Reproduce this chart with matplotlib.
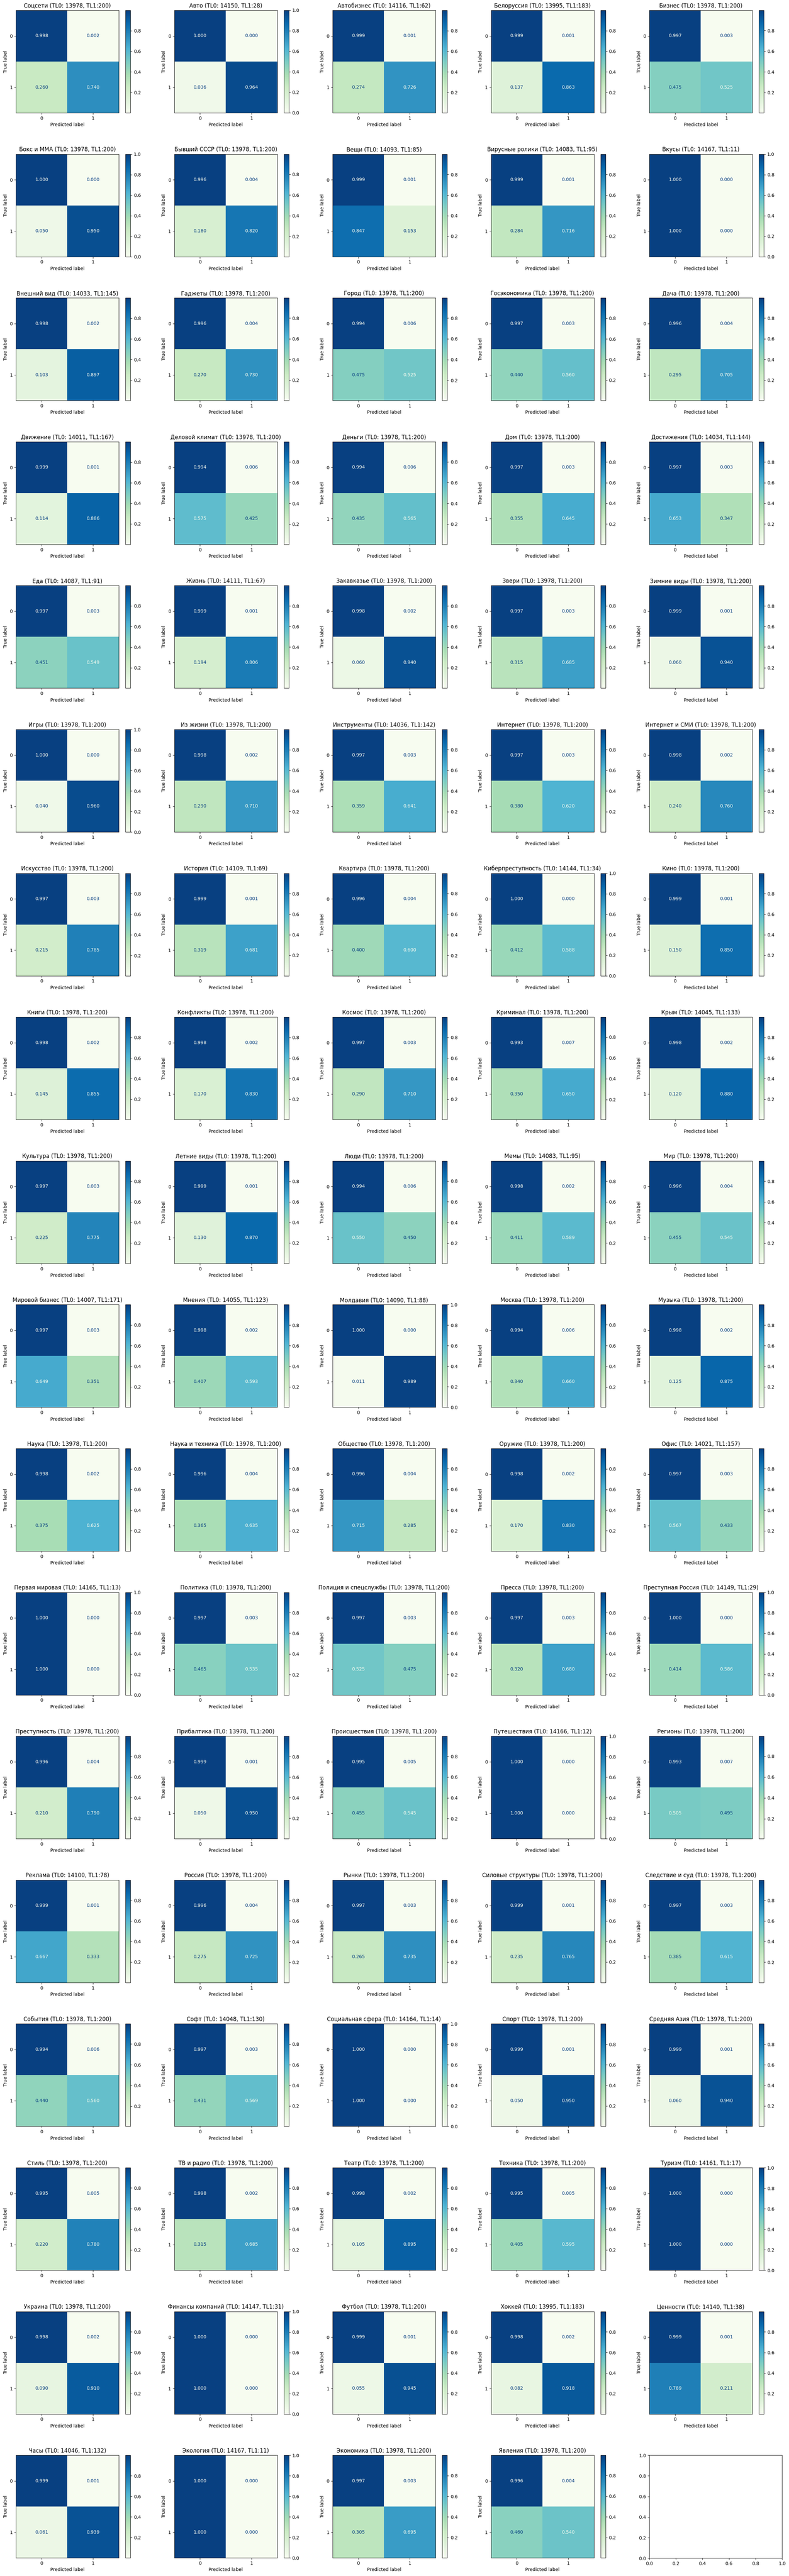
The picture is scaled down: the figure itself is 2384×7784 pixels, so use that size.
import numpy as np
import matplotlib
matplotlib.use("Agg")
import matplotlib.pyplot as plt

# Темы и объёмы классов
topics = [
    "Соцсети", "Авто", "Автобизнес", "Белоруссия", "Бизнес",
    "Бокс и ММА", "Бывший СССР", "Вещи", "Вирусные ролики", "Вкусы",
    "Внешний вид", "Гаджеты", "Город", "Госэкономика", "Дача",
    "Движение", "Деловой климат", "Деньги", "Дом", "Достижения",
    "Еда", "Жизнь", "Закавказье", "Звери", "Зимние виды",
    "Игры", "Из жизни", "Инструменты", "Интернет", "Интернет и СМИ",
    "Искусство", "История", "Квартира", "Киберпреступность", "Кино",
    "Книги", "Конфликты", "Космос", "Криминал", "Крым",
    "Культура", "Летние виды", "Люди", "Мемы", "Мир",
    "Мировой бизнес", "Мнения", "Молдавия", "Москва", "Музыка",
    "Наука", "Наука и техника", "Общество", "Оружие", "Офис",
    "Первая мировая", "Политика", "Полиция и спецслужбы", "Пресса", "Преступная Россия",
    "Преступность", "Прибалтика", "Происшествия", "Путешествия", "Регионы",
    "Реклама", "Россия", "Рынки", "Силовые структуры", "Следствие и суд",
    "События", "Софт", "Социальная сфера", "Спорт", "Средняя Азия",
    "Стиль", "ТВ и радио", "Театр", "Техника", "Туризм",
    "Украина", "Финансы компаний", "Футбол", "Хоккей", "Ценности",
    "Часы", "Экология", "Экономика", "Явления",
]

tl0 = [
    13978, 14150, 14116, 13995, 13978,
    13978, 13978, 14093, 14083, 14167,
    14033, 13978, 13978, 13978, 13978,
    14011, 13978, 13978, 13978, 14034,
    14087, 14111, 13978, 13978, 13978,
    13978, 13978, 14036, 13978, 13978,
    13978, 14109, 13978, 14144, 13978,
    13978, 13978, 13978, 13978, 14045,
    13978, 13978, 13978, 14083, 13978,
    14007, 14055, 14090, 13978, 13978,
    13978, 13978, 13978, 13978, 14021,
    14165, 13978, 13978, 13978, 14149,
    13978, 13978, 13978, 14166, 13978,
    14100, 13978, 13978, 13978, 13978,
    13978, 14048, 14164, 13978, 13978,
    13978, 13978, 13978, 13978, 14161,
    13978, 14147, 13978, 13995, 14140,
    14046, 14167, 13978, 13978,
]

tl1 = [
    200, 28, 62, 183, 200,
    200, 200, 85, 95, 11,
    145, 200, 200, 200, 200,
    167, 200, 200, 200, 144,
    91, 67, 200, 200, 200,
    200, 200, 142, 200, 200,
    200, 69, 200, 34, 200,
    200, 200, 200, 200, 133,
    200, 200, 200, 95, 200,
    171, 123, 88, 200, 200,
    200, 200, 200, 200, 157,
    13, 200, 200, 200, 29,
    200, 200, 200, 12, 200,
    78, 200, 200, 200, 200,
    200, 130, 14, 200, 200,
    200, 200, 200, 200, 17,
    200, 31, 200, 183, 38,
    132, 11, 200, 200,
]

# Нормированные матрицы ошибок: строка true=0 и строка true=1
row0 = [
    (0.998, 0.002), (1.000, 0.000), (0.999, 0.001), (0.999, 0.001), (0.997, 0.003),
    (1.000, 0.000), (0.996, 0.004), (0.999, 0.001), (0.999, 0.001), (1.000, 0.000),
    (0.998, 0.002), (0.996, 0.004), (0.994, 0.006), (0.997, 0.003), (0.996, 0.004),
    (0.999, 0.001), (0.994, 0.006), (0.994, 0.006), (0.997, 0.003), (0.997, 0.003),
    (0.997, 0.003), (0.999, 0.001), (0.998, 0.002), (0.997, 0.003), (0.999, 0.001),
    (1.000, 0.000), (0.998, 0.002), (0.997, 0.003), (0.997, 0.003), (0.998, 0.002),
    (0.997, 0.003), (0.999, 0.001), (0.996, 0.004), (1.000, 0.000), (0.999, 0.001),
    (0.998, 0.002), (0.998, 0.002), (0.997, 0.003), (0.993, 0.007), (0.998, 0.002),
    (0.997, 0.003), (0.999, 0.001), (0.994, 0.006), (0.998, 0.002), (0.996, 0.004),
    (0.997, 0.003), (0.998, 0.002), (1.000, 0.000), (0.994, 0.006), (0.998, 0.002),
    (0.998, 0.002), (0.996, 0.004), (0.996, 0.004), (0.998, 0.002), (0.997, 0.003),
    (1.000, 0.000), (0.997, 0.003), (0.997, 0.003), (0.997, 0.003), (1.000, 0.000),
    (0.996, 0.004), (0.999, 0.001), (0.995, 0.005), (1.000, 0.000), (0.993, 0.007),
    (0.999, 0.001), (0.996, 0.004), (0.997, 0.003), (0.999, 0.001), (0.997, 0.003),
    (0.994, 0.006), (0.997, 0.003), (1.000, 0.000), (0.999, 0.001), (0.999, 0.001),
    (0.995, 0.005), (0.998, 0.002), (0.998, 0.002), (0.995, 0.005), (1.000, 0.000),
    (0.998, 0.002), (1.000, 0.000), (0.999, 0.001), (0.998, 0.002), (0.999, 0.001),
    (0.999, 0.001), (1.000, 0.000), (0.997, 0.003), (0.996, 0.004),
]

row1 = [
    (0.260, 0.740), (0.036, 0.964), (0.274, 0.726), (0.137, 0.863), (0.475, 0.525),
    (0.050, 0.950), (0.180, 0.820), (0.847, 0.153), (0.284, 0.716), (1.000, 0.000),
    (0.103, 0.897), (0.270, 0.730), (0.475, 0.525), (0.440, 0.560), (0.295, 0.705),
    (0.114, 0.886), (0.575, 0.425), (0.435, 0.565), (0.355, 0.645), (0.653, 0.347),
    (0.451, 0.549), (0.194, 0.806), (0.060, 0.940), (0.315, 0.685), (0.060, 0.940),
    (0.040, 0.960), (0.290, 0.710), (0.359, 0.641), (0.380, 0.620), (0.240, 0.760),
    (0.215, 0.785), (0.319, 0.681), (0.400, 0.600), (0.412, 0.588), (0.150, 0.850),
    (0.145, 0.855), (0.170, 0.830), (0.290, 0.710), (0.350, 0.650), (0.120, 0.880),
    (0.225, 0.775), (0.130, 0.870), (0.550, 0.450), (0.411, 0.589), (0.455, 0.545),
    (0.649, 0.351), (0.407, 0.593), (0.011, 0.989), (0.340, 0.660), (0.125, 0.875),
    (0.375, 0.625), (0.365, 0.635), (0.715, 0.285), (0.170, 0.830), (0.567, 0.433),
    (1.000, 0.000), (0.465, 0.535), (0.525, 0.475), (0.320, 0.680), (0.414, 0.586),
    (0.210, 0.790), (0.050, 0.950), (0.455, 0.545), (1.000, 0.000), (0.505, 0.495),
    (0.667, 0.333), (0.275, 0.725), (0.265, 0.735), (0.235, 0.765), (0.385, 0.615),
    (0.440, 0.560), (0.431, 0.569), (1.000, 0.000), (0.050, 0.950), (0.060, 0.940),
    (0.220, 0.780), (0.315, 0.685), (0.105, 0.895), (0.405, 0.595), (1.000, 0.000),
    (0.090, 0.910), (1.000, 0.000), (0.055, 0.945), (0.082, 0.918), (0.789, 0.211),
    (0.061, 0.939), (1.000, 0.000), (0.305, 0.695), (0.460, 0.540),
]

W, H = 2384, 7784
n_rows, n_cols = 18, 5
fig = plt.figure(figsize=(W / 100, H / 100), dpi=100)

cmap = plt.get_cmap("GnBu")
col_step, row_step = 478.5, 434.6
x_first, y_first = 48, 31


def box(x, y, w, h):
    # пиксели -> доли фигуры
    return [x / W, 1 - (y + h) / H, w / W, h / H]


for i, name in enumerate(topics):
    r, c = divmod(i, n_cols)
    x0 = x_first + c * col_step
    y0 = y_first + r * row_step
    ax = fig.add_axes(box(x0, y0, 311, 310))
    cax = fig.add_axes(box(x0 + 331, y0, 15, 310))

    cm = np.array([row0[i], row1[i]])
    im = ax.imshow(cm, interpolation="nearest", cmap=cmap, aspect="auto")
    cmap_min, cmap_max = cmap(0.0), cmap(1.0)
    thresh = (cm.max() + cm.min()) / 2.0
    for a in range(2):
        for b in range(2):
            color = cmap_max if cm[a, b] < thresh else cmap_min
            ax.text(b, a, format(cm[a, b], ".3f"), ha="center", va="center", color=color)
    fig.colorbar(im, cax=cax)
    ax.set(xticks=[0, 1], yticks=[0, 1], xticklabels=["0", "1"], yticklabels=["0", "1"],
           xlabel="Predicted label", ylabel="True label")
    ax.set_ylim(1.5, -0.5)
    ax.set_title(f"{name} (TL0: {tl0[i]}, TL1:{tl1[i]})")

# пустая последняя ячейка
r, c = divmod(len(topics), n_cols)
fig.add_axes(box(x_first + c * col_step, y_first + r * row_step, 401, 311))

fig.savefig("out.png", dpi=100)
